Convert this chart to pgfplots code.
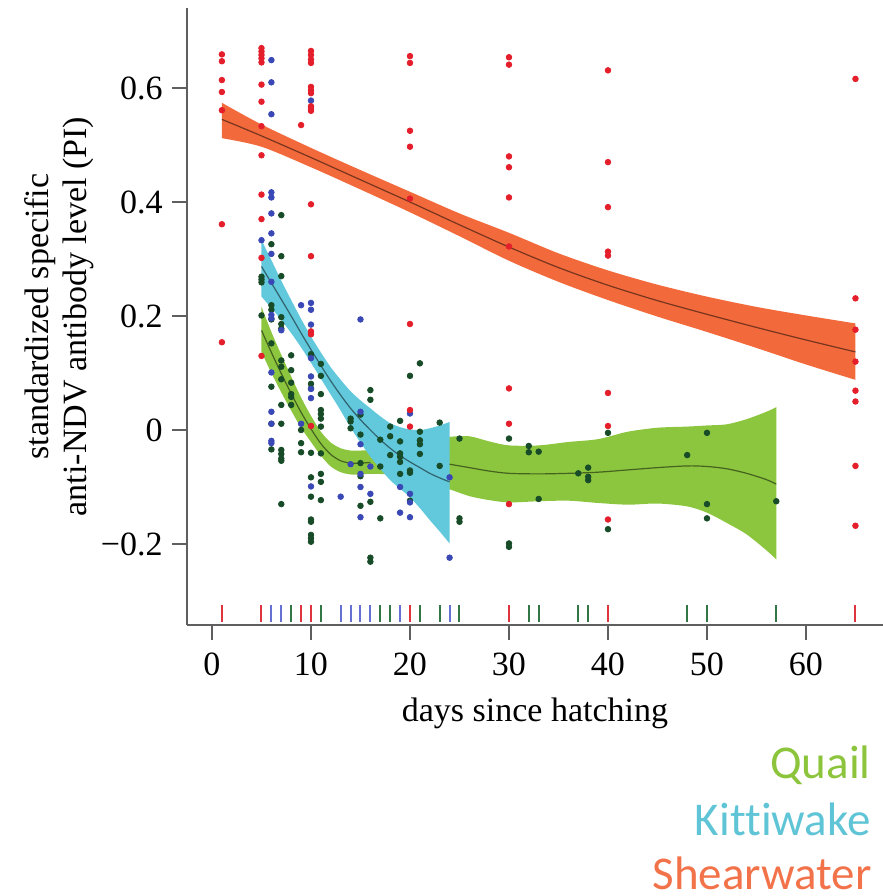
\documentclass[border=0pt]{standalone}
\usepackage{fontspec}
\setmainfont{Liberation Serif}
\newfontfamily\calib[Ligatures=NoCommon]{Carlito}
\usepackage{pgfplots}
\pgfplotsset{compat=1.18}
\usepgfplotslibrary{fillbetween}
\usepackage{pgfplotstable}

\definecolor{bandQ}{RGB}{140,198,63}
\definecolor{bandK}{RGB}{98,200,220}
\definecolor{bandS}{RGB}{242,106,60}
\definecolor{ptR}{RGB}{228,30,42}
\definecolor{ptB}{RGB}{58,72,182}
\definecolor{ptG}{RGB}{24,76,40}
\definecolor{rugR}{RGB}{222,52,62}
\definecolor{rugB}{RGB}{100,112,210}
\definecolor{rugG}{RGB}{50,118,70}
\definecolor{axgray}{RGB}{95,95,95}
\definecolor{legQ}{RGB}{140,196,60}
\definecolor{legK}{RGB}{95,197,214}
\definecolor{legS}{RGB}{242,115,74}

% fitted curves: day, lower, fit, upper
\pgfplotstableread{
d lo mid hi
1 0.512 0.545 0.574
5 0.497 0.516 0.536
10 0.461 0.478 0.495
15 0.422 0.439 0.456
20 0.382 0.400 0.418
25 0.340 0.360 0.380
30 0.297 0.321 0.346
35 0.260 0.285 0.310
40 0.228 0.254 0.280
45 0.199 0.227 0.255
50 0.172 0.203 0.234
55 0.144 0.180 0.216
60 0.115 0.158 0.201
65 0.088 0.137 0.187
}\shearfit

\pgfplotstableread{
d lo mid hi
5 0.234 0.287 0.333
6 0.214 0.258 0.298
7 0.193 0.229 0.262
8 0.170 0.200 0.228
9 0.145 0.170 0.195
10 0.118 0.141 0.164
11 0.090 0.113 0.136
12 0.062 0.086 0.110
13 0.034 0.061 0.088
14 0.004 0.038 0.068
15 -0.022 0.018 0.052
16 -0.047 0.000 0.038
17 -0.068 -0.017 0.024
18 -0.088 -0.032 0.012
19 -0.103 -0.045 0.005
20 -0.118 -0.056 0.001
21 -0.137 -0.066 0.000
22 -0.158 -0.076 0.003
23 -0.178 -0.084 0.008
24 -0.199 -0.091 0.014
}\kittfit

\pgfplotstableread{
d lo mid hi
5 0.137 0.175 0.216
6 0.100 0.136 0.172
7 0.066 0.099 0.132
8 0.034 0.064 0.094
9 0.004 0.031 0.057
10 -0.021 0.002 0.025
11 -0.045 -0.024 -0.003
12 -0.064 -0.043 -0.022
13 -0.074 -0.054 -0.032
14 -0.078 -0.058 -0.036
15 -0.078 -0.058 -0.036
16 -0.077 -0.057 -0.035
18 -0.078 -0.056 -0.031
20 -0.084 -0.056 -0.025
22 -0.094 -0.058 -0.018
24 -0.104 -0.060 -0.012
26 -0.116 -0.066 -0.011
28 -0.123 -0.072 -0.020
30 -0.127 -0.076 -0.027
33 -0.125 -0.077 -0.027
36 -0.124 -0.076 -0.021
39 -0.128 -0.074 -0.016
42 -0.131 -0.070 -0.003
45 -0.129 -0.066 0.004
48 -0.134 -0.063 0.006
50 -0.145 -0.064 0.008
52 -0.163 -0.068 0.010
54 -0.183 -0.076 0.019
56 -0.211 -0.087 0.032
57 -0.227 -0.095 0.040
}\quailfit

% individual birds: day, PI
\pgfplotstableread{
d v
1 0.659
1 0.647
1 0.614
1 0.593
1 0.561
1 0.361
1 0.154
5 0.670
5 0.664
5 0.658
5 0.652
5 0.645
5 0.606
5 0.576
5 0.533
5 0.482
5 0.413
5 0.370
5 0.302
5 0.130
9 0.535
10 0.665
10 0.658
10 0.650
10 0.644
10 0.602
10 0.596
10 0.591
10 0.568
10 0.564
10 0.560
10 0.396
10 0.305
10 0.173
10 0.168
10 0.007
20 0.656
20 0.644
20 0.525
20 0.497
20 0.406
20 0.186
20 0.035
20 0.006
30 0.654
30 0.641
30 0.480
30 0.461
30 0.408
30 0.322
30 0.073
30 0.011
30 -0.130
40 0.631
40 0.470
40 0.391
40 0.313
40 0.306
40 0.065
40 0.007
40 -0.157
65 0.616
65 0.231
65 0.176
65 0.120
65 0.069
65 0.050
65 -0.063
65 -0.168
}\shearpts

\pgfplotstableread{
d v
5 0.333
6 0.649
6 0.610
6 0.554
6 0.417
6 0.408
6 0.380
6 0.345
6 0.309
6 0.260
6 0.202
6 0.196
6 0.101
6 0.032
6 0.011
6 -0.019
6 -0.023
7 0.175
9 0.219
9 0.011
10 0.578
10 0.223
10 0.211
10 0.185
10 0.126
10 0.094
10 0.072
10 0.056
10 -0.099
13 -0.117
14 -0.060
15 0.194
15 0.032
15 -0.025
15 -0.077
15 -0.100
15 -0.153
16 -0.064
16 -0.112
19 -0.100
19 -0.145
20 0.029
20 -0.112
20 -0.127
20 -0.153
24 -0.083
24 -0.224
}\kittpts

\pgfplotstableread{
d v
5 0.269
5 0.264
5 0.259
5 0.201
6 0.326
6 0.219
6 0.211
6 0.194
6 0.152
6 0.076
6 0.011
6 -0.034
7 0.377
7 0.305
7 0.270
7 0.198
7 0.186
7 0.178
7 0.122
7 0.111
7 0.089
7 0.044
7 0.011
7 -0.035
7 -0.042
7 -0.050
7 -0.054
7 -0.130
8 0.131
8 0.105
8 0.083
8 0.063
8 0.058
8 0.044
9 0.000
9 -0.023
9 -0.039
10 0.133
10 0.081
10 0.073
10 -0.040
10 -0.083
10 -0.117
10 -0.157
10 -0.161
10 -0.184
10 -0.190
10 -0.196
11 0.116
11 0.095
11 0.063
11 0.035
11 0.028
11 0.020
11 0.006
11 -0.041
11 -0.077
11 -0.091
11 -0.123
14 0.020
14 0.015
14 0.003
15 0.027
15 -0.008
15 -0.058
15 -0.081
15 -0.133
16 0.070
16 0.053
16 -0.126
16 -0.224
16 -0.231
17 -0.017
17 -0.064
17 -0.155
18 0.006
18 -0.011
18 -0.044
19 0.016
19 -0.020
19 -0.041
19 -0.047
19 -0.056
19 -0.077
20 0.095
20 -0.071
20 -0.075
20 -0.124
21 0.117
21 -0.003
21 -0.018
21 -0.025
21 -0.042
23 0.013
23 -0.063
25 -0.015
25 -0.155
25 -0.161
30 -0.015
30 -0.199
30 -0.205
32 -0.028
32 -0.039
33 -0.038
33 -0.121
37 -0.076
38 -0.066
38 -0.082
38 -0.088
40 -0.005
40 -0.174
48 -0.044
50 -0.005
50 -0.130
50 -0.155
57 -0.125
}\quailpts

\begin{document}
\begin{tikzpicture}
\begin{axis}[
    at={(0,0)}, anchor=south west,
    scale only axis, width=348pt, height=308.5pt,
    xmin=-2.525, xmax=67.78,
    ymin=-0.3421, ymax=0.7404,
    axis x line*=bottom, axis y line*=left,
    axis line style={line width=1pt, axgray, -},
    tick style={line width=1pt, axgray},
    tick align=outside,
    major tick length=7.5pt,
    xtick={0,10,20,30,40,50,60},
    ytick={-0.2,0,0.2,0.4,0.6},
    yticklabels={−0.2,0,0.2,0.4,0.6},
    /pgf/number format/assume math mode=true,
    every tick label/.append style={font=\fontsize{17}{20}\selectfont, inner sep=0pt},
    xticklabel style={anchor=base, yshift=-17.5pt},
    yticklabel style={anchor=east, xshift=-4.5pt},
    xlabel={days since hatching},
    xlabel style={at={(axis description cs:0.5,0)}, anchor=base, yshift=-48pt,
        font=\fontsize{17}{20}\selectfont, inner sep=0pt},
    ylabel={standardized specific\\anti-NDV antibody level (PI)},
    ylabel style={at={(axis description cs:-0.184,0.5)}, anchor=center, align=center,
        font=\fontsize{17}{19}\selectfont, inner sep=0pt},
    fitline/.style={smooth, line width=0.6pt, black, opacity=0.5},
    pts/.style={only marks, mark=*, mark size=1.4pt},
    rug/.style={only marks, mark=|, mark size=4.25pt},
]
% quail
\addplot[name path=qhi, draw=none, smooth] table[x=d, y=hi] {\quailfit};
\addplot[name path=qlo, draw=none, smooth] table[x=d, y=lo] {\quailfit};
\addplot[bandQ] fill between[of=qhi and qlo];
\addplot[fitline, restrict x to domain=5:16] table[x=d, y=mid] {\quailfit};
\addplot[fitline, restrict x to domain=24:57] table[x=d, y=mid] {\quailfit};
% kittiwake
\addplot[name path=khi, draw=none, smooth] table[x=d, y=hi] {\kittfit};
\addplot[name path=klo, draw=none, smooth] table[x=d, y=lo] {\kittfit};
\addplot[bandK] fill between[of=khi and klo];
\addplot[fitline] table[x=d, y=mid] {\kittfit};
% shearwater
\addplot[name path=shi, draw=none, smooth] table[x=d, y=hi] {\shearfit};
\addplot[name path=slo, draw=none, smooth] table[x=d, y=lo] {\shearfit};
\addplot[bandS] fill between[of=shi and slo];
\addplot[fitline] table[x=d, y=mid] {\shearfit};
% birds
\addplot[pts, mark options={draw=ptG, fill=ptG}] table[x=d, y=v] {\quailpts};
\addplot[pts, mark options={draw=ptB, fill=ptB}] table[x=d, y=v] {\kittpts};
\addplot[pts, mark options={draw=ptR, fill=ptR}] table[x=d, y=v] {\shearpts};
% rug of sampling days
\addplot[rug, mark options={line width=1pt, rugR}] coordinates {
    (1,-0.322) (5,-0.322) (9,-0.322) (10,-0.322) (20,-0.322) (30,-0.322) (40,-0.322) (65,-0.322)};
\addplot[rug, mark options={line width=1pt, rugB}] coordinates {
    (6,-0.322) (7,-0.322) (13,-0.322) (14,-0.322) (15,-0.322) (16,-0.322) (19,-0.322) (24,-0.322)};
\addplot[rug, mark options={line width=1pt, rugG}] coordinates {
    (8,-0.322) (11,-0.322) (17,-0.322) (18,-0.322) (21,-0.322) (23,-0.322) (25,-0.322)
    (32,-0.322) (33,-0.322) (37,-0.322) (38,-0.322) (48,-0.322) (50,-0.322) (57,-0.322)};
\end{axis}
% species key, bottom right
\node[anchor=base east, inner sep=0pt, text=legQ, font=\calib\fontsize{23.5}{28}\selectfont] at (342pt,-76.5pt) {Quail};
\node[anchor=base east, inner sep=0pt, text=legK, font=\calib\fontsize{23.5}{28}\selectfont] at (342pt,-105pt) {Kittiwake};
\node[anchor=base east, inner sep=0pt, text=legS, font=\calib\fontsize{23.5}{28}\selectfont] at (342.5pt,-132pt) {Shearwater};
% page = 883 x 896 px at 0.5pt per px, axis corner at (0,0)
\pgfresetboundingbox
\path[use as bounding box] (-93.5pt,-135.5pt) rectangle (348pt,312.5pt);
\end{tikzpicture}
\end{document}
